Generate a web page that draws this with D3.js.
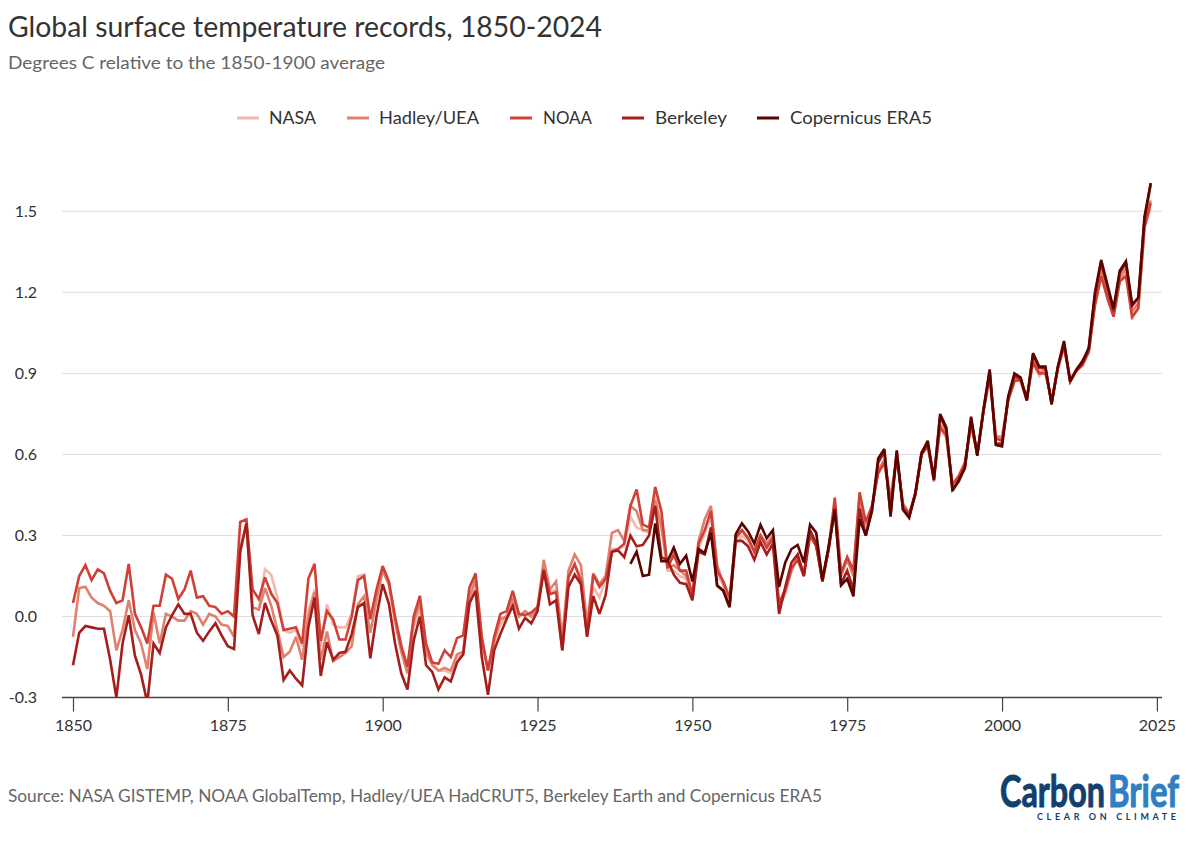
<!DOCTYPE html>
<html>
<head>
<meta charset="utf-8">
<title>Global surface temperature records</title>
<script src="https://cdn.jsdelivr.net/npm/d3@7"></script>
<style>
  html, body { margin: 0; padding: 0; background: #fff; }
  svg { display: block; }
  text { font-family: Lato, "Noto Sans", sans-serif; }
  .tick text { font-size: 16px; fill: #333; }
</style>
</head>
<body>
<svg id="chart" width="1200" height="845"></svg>
<script>
// values, degrees C vs 1850-1900
const noaa = [
  .05,.15,.19,.135,.175,.16,.095,.05,.06,.195,.01,-.04,-.1,.04,.04,.155,.14,.065,.1,.17,.07,.075,.04,.035,.01,.02,0,.35,.36,.1,
  .065,.145,.085,.05,-.05,-.045,-.04,-.1,.14,.195,-.09,.02,-.01,-.085,-.085,0,.135,.15,-.01,.1,
  .187,.13,0,-.11,-.185,0,.077,-.1,-.17,-.175,-.125,-.15,-.08,-.07,.107,.16,-.075,-.2,-.075,.01,.02,.095,.01,.005,.015,
  .035,.175,.083,.09,-.125,.145,.195,.13,-.07,.155,.11,.14,.24,.25,.27,.41,.47,.34,.33,.48,.39,.18,.23,.17,.17,
  .08,.27,.32,.39,.17,.13,.07,.29,.32,.29,.24,.3,.255,.29,.05,
  .1,.18,.21,.15,.3,.26,.14,.25,.44,.16,.22,.17,.46,.35,.41,.53,.57,.42,.59,.41,.38,.45,.6,.63,.52,.7,.67,.49,.52,.57,.71,.6,.76,.89,.66,
  .65,.8,.87,.88,.81,.94,.9,.9,.8,.92,1.0,.87,.91,.93,.98,1.15,1.26,1.18,1.11,1.24,1.26,1.11,1.14,1.44,1.53
];
const hadley = [
  -.075,.105,.11,.07,.05,.04,.02,-.125,-.05,.06,-.05,-.1,-.195,.015,-.1,.01,0,-.015,-.015,.02,.01,-.03,.01,0,-.03,-.035,-.075,.25,.345,.035,
  .025,.105,.04,-.05,-.15,-.13,-.075,-.16,0,.09,-.16,-.055,-.165,-.15,-.135,-.11,.045,.075,-.06,.06,
  .17,.12,-.02,-.13,-.21,-.02,.05,-.13,-.18,-.2,-.19,-.2,-.14,-.13,.07,.14,-.09,-.2,-.09,-.01,0,.07,0,.02,0,
  .03,.21,.1,.13,-.09,.17,.23,.19,-.03,.16,.12,.15,.31,.32,.28,.41,.39,.32,.32,.43,.33,.18,.19,.17,.15,
  .08,.28,.36,.41,.19,.12,.05,.3,.32,.29,.24,.3,.27,.3,.03,
  .09,.17,.22,.16,.31,.26,.13,.25,.41,.15,.21,.15,.44,.34,.4,.54,.58,.44,.59,.42,.38,.45,.61,.63,.5,.71,.67,.47,.5,.56,.72,.6,.77,.9,.67,
  .66,.81,.88,.87,.8,.95,.9,.92,.79,.92,1.0,.88,.91,.95,.98,1.17,1.29,1.19,1.12,1.25,1.29,1.13,1.16,1.46,1.54
];
const berkeley = [
  -.18,-.06,-.035,-.04,-.045,-.045,-.16,-.3,-.1,.005,-.145,-.215,-.32,-.1,-.135,-.04,.005,.045,.01,.01,-.06,-.09,-.055,-.025,-.07,-.11,-.12,.24,.345,.005,
  -.065,.05,-.015,-.07,-.235,-.2,-.23,-.255,-.04,.07,-.22,-.095,-.16,-.135,-.13,-.065,.035,.05,-.155,0,
  .12,.047,-.1,-.21,-.27,-.09,0,-.18,-.205,-.27,-.225,-.24,-.17,-.14,.05,.095,-.15,-.29,-.125,-.065,-.01,.04,-.045,-.005,-.025,
  .02,.17,.045,.06,-.125,.11,.155,.12,-.075,.075,.01,.08,.24,.245,.22,.3,.26,.265,.3,.41,.22,.21,.155,.125,.12,
  .06,.24,.23,.33,.115,.095,.035,.28,.28,.26,.21,.275,.23,.27,.01,
  .11,.2,.23,.15,.32,.27,.13,.25,.4,.12,.17,.1,.4,.3,.39,.57,.61,.38,.61,.4,.37,.46,.6,.64,.51,.74,.69,.47,.5,.55,.73,.6,.76,.91,.64,
  .64,.81,.89,.88,.8,.97,.92,.92,.79,.92,1.01,.87,.91,.94,.99,1.19,1.31,1.22,1.13,1.27,1.31,1.15,1.18,1.47,1.6
];
// NASA starts in 1880
const nasa = [
  .03,.175,.155,.07,-.05,-.06,-.05,-.11,.02,.1,-.11,.045,-.03,-.04,-.04,.01,.15,.155,0,.085,
  .175,.12,-.01,-.1,-.19,-.04,.03,-.14,-.17,-.2,-.2,-.21,-.15,-.14,.04,.13,-.1,-.19,-.1,-.03,0,.07,0,.02,0,
  .03,.18,.09,.1,-.07,.15,.19,.15,-.05,.11,.07,.14,.25,.25,.26,.37,.33,.32,.31,.45,.33,.17,.17,.15,.14,
  .06,.25,.31,.37,.15,.12,.06,.27,.3,.28,.24,.29,.26,.29,.03,
  .09,.17,.22,.16,.31,.26,.14,.25,.41,.15,.22,.17,.42,.33,.41,.54,.58,.43,.6,.41,.38,.45,.6,.65,.52,.7,.66,.48,.51,.56,.71,.6,.76,.88,.66,
  .67,.8,.88,.88,.81,.94,.89,.92,.79,.91,1.0,.88,.91,.94,.99,1.16,1.28,1.18,1.11,1.24,1.28,1.1,1.15,1.44,1.51
];
// ERA5 starts in 1940
const era5 = [
  .195,.24,.15,.155,.345,.205,.205,.255,.195,.225,
  .13,.25,.235,.31,.115,.095,.035,.305,.345,.315,.27,.34,.29,.32,.11,
  .2,.25,.265,.2,.34,.31,.135,.26,.395,.115,.14,.075,.36,.3,.395,.585,.62,.37,.615,.395,.365,.455,.605,.65,.505,.75,.7,.465,.505,.55,.74,.595,.765,.915,.635,
  .63,.815,.9,.885,.8,.975,.925,.925,.785,.925,1.02,.87,.915,.945,.995,1.2,1.32,1.23,1.14,1.28,1.315,1.155,1.18,1.48,1.605
];
const seriesNames = ["NASA", "Hadley/UEA", "NOAA", "Berkeley", "Copernicus ERA5"];
const seriesValues = [nasa, hadley, noaa, berkeley, era5];
const seriesStart = [1880, 1850, 1850, 1850, 1940];
const colors = ["#f3b8ae", "#e0806e", "#cf4136", "#a61e1c", "#5a0500"];
const yTicks = [-0.3, 0, 0.3, 0.6, 0.9, 1.2, 1.5];
const xTicks = [1850, 1875, 1900, 1925, 1950, 1975, 2000, 2025];

const svg = d3.select("#chart");
const x = d3.scaleLinear().domain([1850, 2024]).range([73, 1150.7]);
const y = d3.scaleLinear().domain([-0.3, 1.5]).range([697.6, 211.3]);

// gridlines
svg.append("g").selectAll("line")
  .data(yTicks.slice(1))
  .join("line")
  .attr("x1", 62).attr("x2", 1162)
  .attr("y1", d => y(d)).attr("y2", d => y(d))
  .attr("stroke", "#dedede").attr("stroke-width", 1);

// y axis labels
const yAxis = d3.axisLeft(y).tickValues(yTicks).tickSize(0).tickPadding(0)
  .tickFormat(d => d3.format(".1f")(d).replace("−", "-"));
svg.append("g").attr("transform", "translate(37,0)").call(yAxis)
  .call(g => g.select(".domain").remove());

// x axis
const xAxis = d3.axisBottom(x).tickValues(xTicks).tickFormat(d3.format("d")).tickSize(14).tickPadding(8).tickSizeOuter(0);
svg.append("g").attr("transform", "translate(0,697.6)").call(xAxis)
  .call(g => g.select(".domain").remove())
  .call(g => g.selectAll(".tick line").attr("stroke", "#444").attr("stroke-width", 1.2));
svg.append("line")
  .attr("x1", 62).attr("x2", 1162).attr("y1", 697.6).attr("y2", 697.6)
  .attr("stroke", "#444").attr("stroke-width", 1.5);

// lines, lightest first; the axis floor clips the lowest dips
svg.append("clipPath").attr("id", "plot").append("rect")
  .attr("x", 60).attr("y", 150).attr("width", 1110).attr("height", 548);
const line = d3.line().x(d => x(d.year)).y(d => y(d.value));
seriesValues.forEach((vals, i) => {
  const pts = vals.map((v, j) => ({ year: seriesStart[i] + j, value: v }));
  svg.append("path")
    .datum(pts)
    .attr("clip-path", "url(#plot)")
    .attr("d", line)
    .attr("fill", "none")
    .attr("stroke", colors[i])
    .attr("stroke-width", 2.6)
    .attr("stroke-linejoin", "miter")
    .attr("stroke-miterlimit", 3);
});

// helper for text with a set width
function label(tx, ty, str, size, color, width) {
  const t = svg.append("text").attr("x", tx).attr("y", ty)
    .attr("font-size", size).attr("fill", color).text(str);
  if (width) t.attr("textLength", width).attr("lengthAdjust", "spacingAndGlyphs");
  return t;
}

label(8, 37, "Global surface temperature records, 1850-2024", 29, "#333", 594);
label(8, 69, "Degrees C relative to the 1850-1900 average", 18, "#666", 377);
label(8, 802, "Source: NASA GISTEMP, NOAA GlobalTemp, Hadley/UEA HadCRUT5, Berkeley Earth and Copernicus ERA5", 17, "#666", 814);

// legend
const legendLine = [237, 347, 510, 622, 757];
const legendText = [269, 379, 543, 655, 790];
const legendWidth = [47, 100, 49, 72, 142];
seriesNames.forEach((n, i) => {
  svg.append("line")
    .attr("x1", legendLine[i]).attr("x2", legendLine[i] + 22)
    .attr("y1", 118).attr("y2", 118)
    .attr("stroke", colors[i]).attr("stroke-width", 3);
  label(legendText[i], 124, n, 18, "#333", legendWidth[i]);
});

// logo, as text
label(1000, 807, "Carbon", 44, "#123f6d", 105)
  .attr("font-family", "Liberation Sans Narrow").attr("font-weight", "bold")
  .attr("stroke", "#123f6d").attr("stroke-width", 1);
label(1108, 807, "Brief", 44, "#2f80c2", 71)
  .attr("font-family", "Liberation Sans Narrow").attr("font-weight", "bold")
  .attr("stroke", "#2f80c2").attr("stroke-width", 1);
label(1037, 820, "CLEAR ON CLIMATE", 9, "#123f6d", 139).attr("font-weight", "bold")
  .attr("lengthAdjust", "spacing");
</script>
</body>
</html>
